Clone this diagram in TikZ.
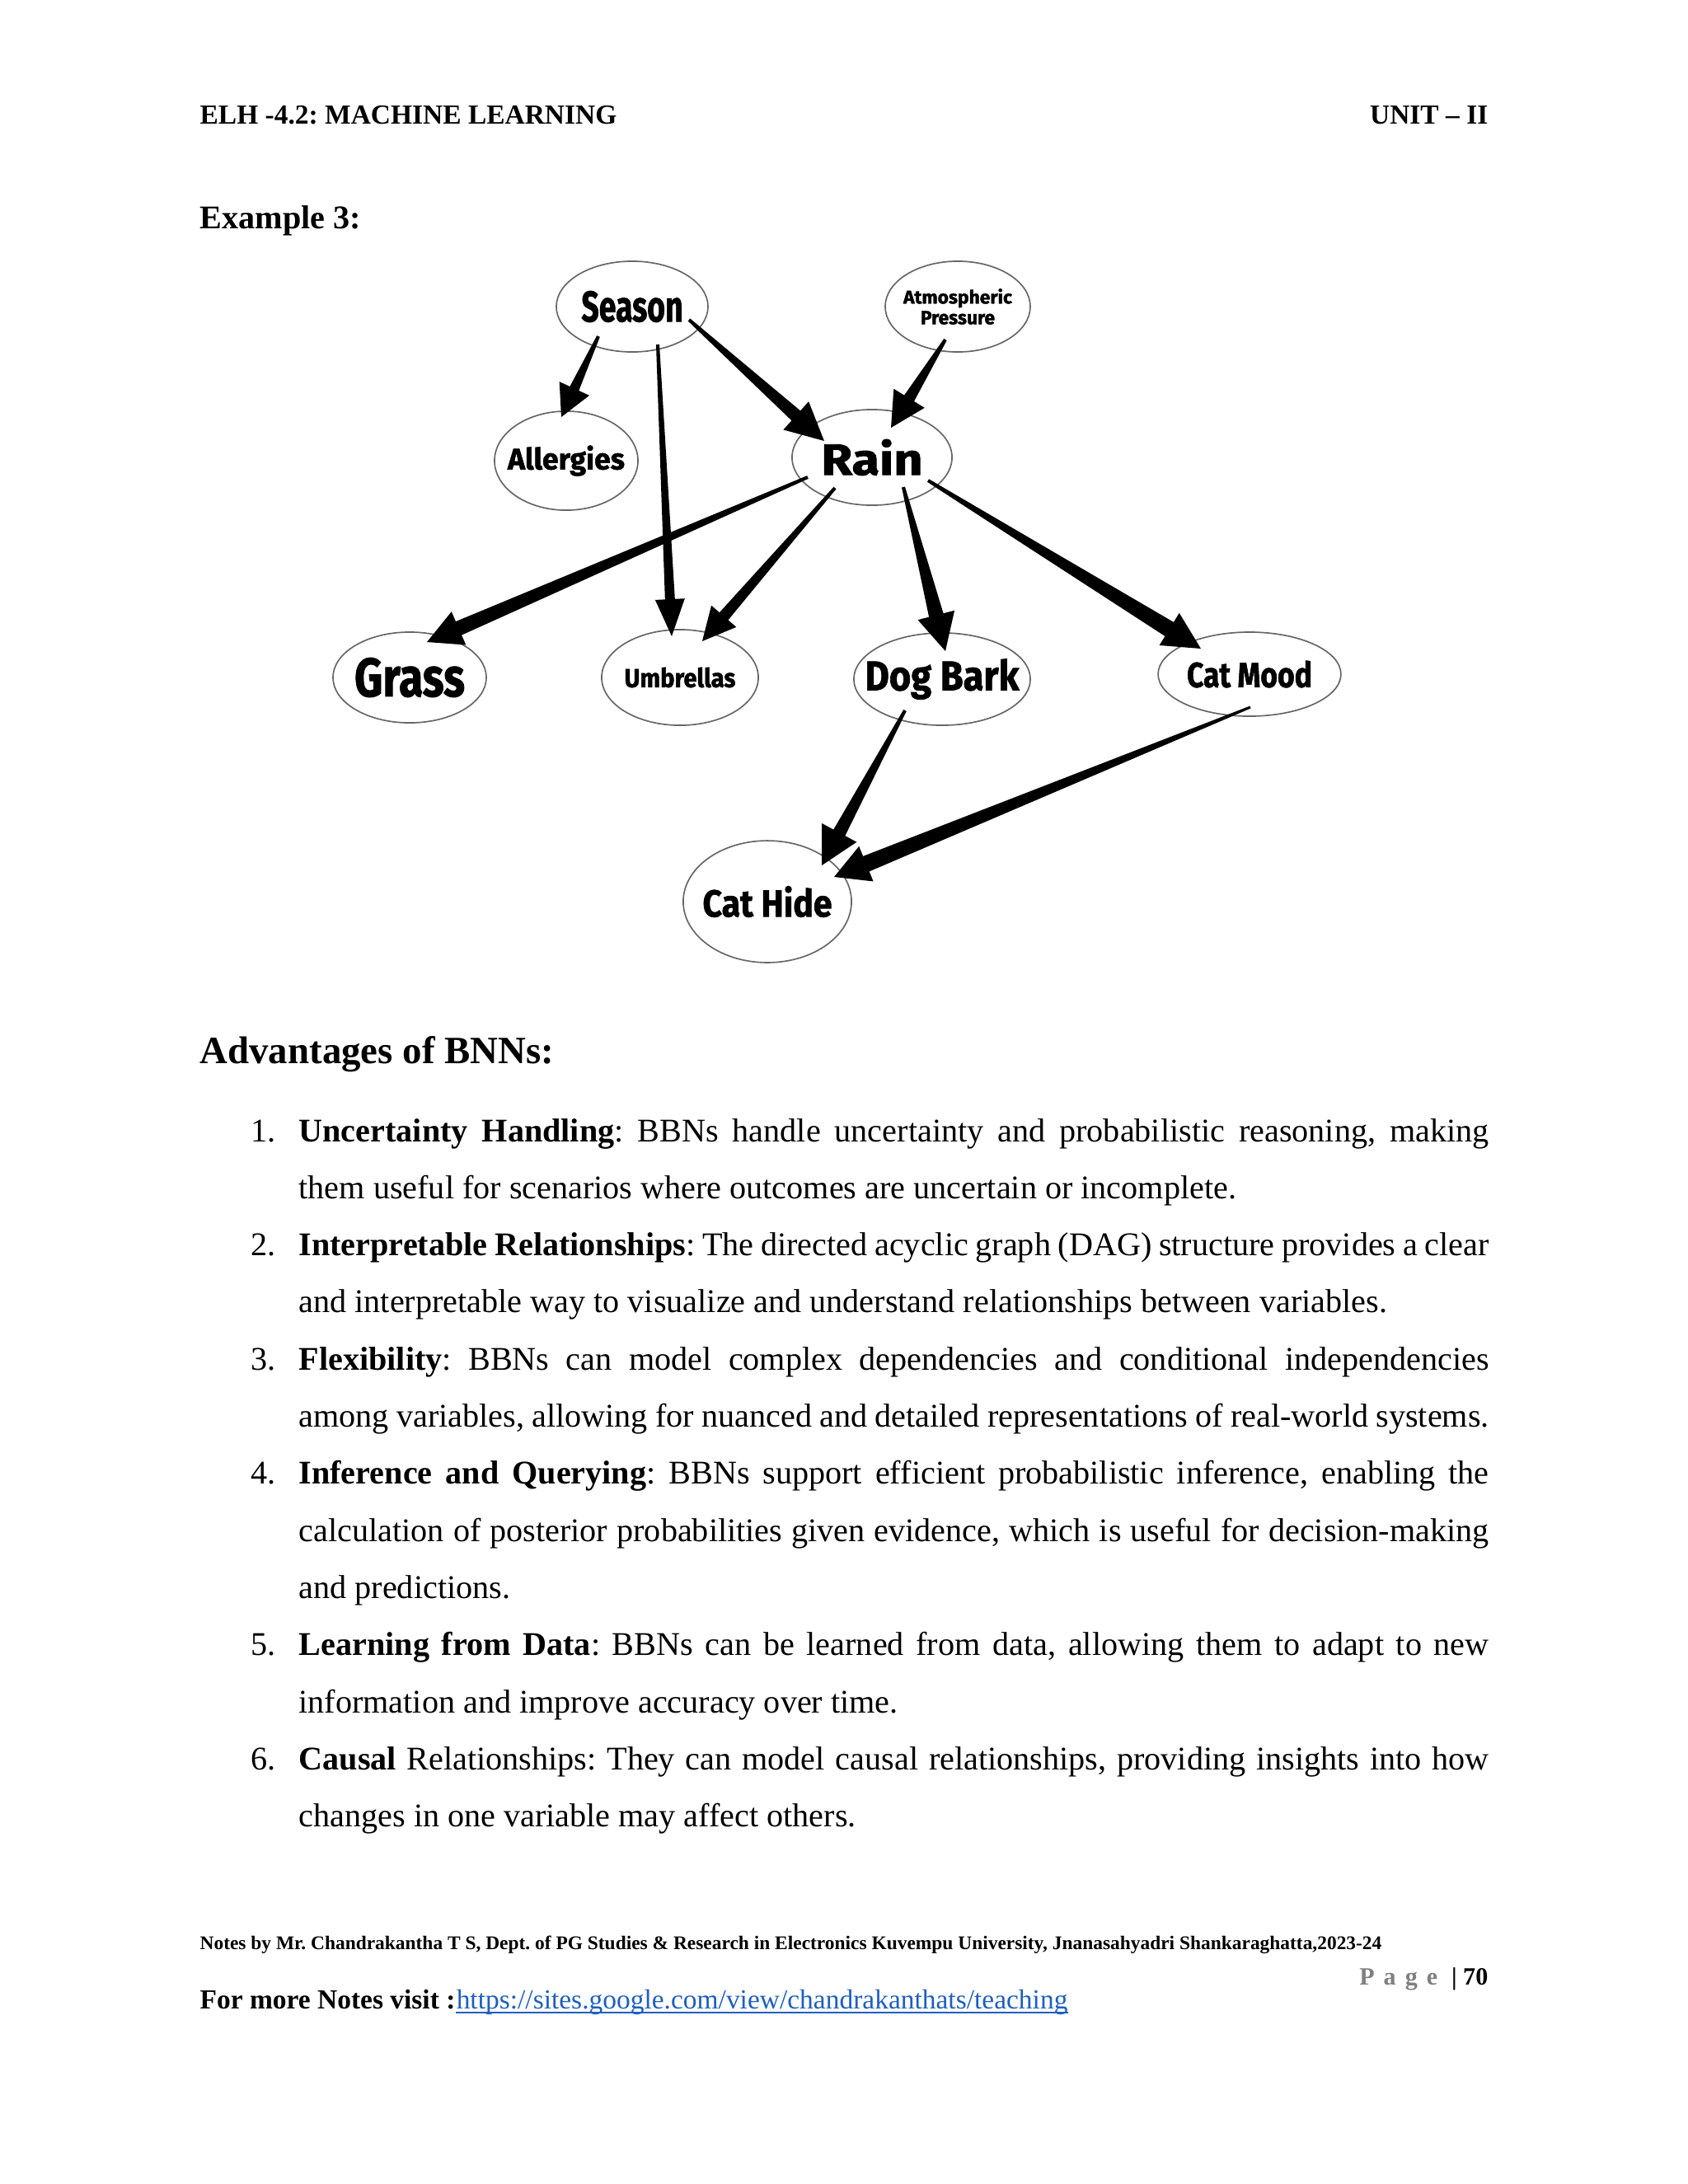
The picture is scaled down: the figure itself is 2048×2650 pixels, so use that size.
\documentclass[tikz,border=0pt]{standalone}
\usepackage{fontspec}
\setmainfont{Liberation Serif}
\newfontfamily\nodefont[BoldFeatures={FakeBold=1.5}]{Fira Sans}
\usepackage{graphicx}
\usetikzlibrary{calc,shapes.geometric}
\definecolor{linkblue}{HTML}{1F5FBF}
\definecolor{pagegray}{HTML}{808080}
\def\pxu{0.29883pt}
\frenchspacing
\newcommand\lab[3]{\makebox[0pt][c]{\resizebox{#1}{#2}{\nodefont\bfseries #3}}}
% tapered arrow: tail, tip, tail half-width, shaft half-width, head length, head half-width (px)
\newcommand\taper[6]{%
  \coordinate (hb) at ($(#2)!#5*\pxu!(#1)$);
  \fill[black] ($(#1)!#3*\pxu!90:(#2)$) -- ($(hb)!#4*\pxu!-90:(#1)$) -- ($(hb)!#6*\pxu!-90:(#1)$) -- (#2)
     -- ($(hb)!#6*\pxu!90:(#1)$) -- ($(hb)!#4*\pxu!90:(#1)$) -- ($(#1)!#3*\pxu!-90:(#2)$) -- cycle;
}
\begin{document}
\begin{tikzpicture}[x=0.29883pt,y=-0.29883pt,
  bn/.style={ellipse, draw=black!60, line width=0.5pt, fill=white, inner sep=0pt},
  txt/.style={anchor=base west, inner sep=0pt, font=\fontsize{12}{14}\selectfont\frenchspacing},
  num/.style={anchor=base west, inner sep=0pt, font=\fontsize{12}{14}\selectfont},
  hdr/.style={inner sep=0pt, font=\fontsize{10}{12}\selectfont\bfseries}]
\fill[white] (0,0) rectangle (2048,2650);
\useasboundingbox (0,0) rectangle (2048,2650);

% header
\node[hdr, anchor=base west] (hl) at (242,150) {ELH -4.2: MACHINE LEARNING};
\node[hdr, anchor=base east] (hr) at (1806,150) {UNIT – II};
\node[inner sep=0pt, anchor=base west, font=\fontsize{12}{14}\selectfont\bfseries] (ex) at (242,277) {Example 3:};

% diagram nodes
\node[bn, minimum width=55pt, minimum height=32.9pt] (season) at (767,372) {\lab{36.8pt}{11.1pt}{Season}};
\node[bn, minimum width=52.6pt, minimum height=32.9pt, align=center, font=\fontsize{7}{7.5}\selectfont] (atm) at (1162,372) {\lab{39.4pt}{5.4pt}{Atmospheric}\\\lab{26.9pt}{4.8pt}{Pressure}};
\node[bn, minimum width=52pt, minimum height=35.9pt] (allergies) at (687,559) {\lab{42.4pt}{8.7pt}{Allergies}};
\node[bn, minimum width=58pt, minimum height=34.7pt] (rain) at (1058,555) {\lab{36.8pt}{12.9pt}{Rain}};
\node[bn, minimum width=55.6pt, minimum height=32.9pt] (grass) at (497,822) {\lab{40pt}{14pt}{Grass}};
\node[bn, minimum width=56.8pt, minimum height=34.7pt] (umbrellas) at (825,822) {\lab{40.3pt}{7.2pt}{Umbrellas}};
\node[bn, minimum width=64pt, minimum height=33.5pt] (dogbark) at (1143,824) {\lab{55.9pt}{11.4pt}{Dog Bark}};
\node[bn, minimum width=66.3pt, minimum height=30.5pt] (catmood) at (1516,818) {\lab{45.4pt}{9.6pt}{Cat Mood}};
\node[bn, minimum width=61pt, minimum height=44.2pt] (cathide) at (931,1094) {\lab{46.9pt}{11.1pt}{Cat Hide}};

% arrow end points, relative to the nodes
\coordinate (a1) at ([shift={(-41,36)}]season.center);
\coordinate (b1) at ([shift={(-6,-53)}]allergies.center);
\coordinate (a2) at ([shift={(31,46)}]season.center);
\coordinate (b2) at ([shift={(-10,-50)}]umbrellas.center);
\coordinate (a3) at ([shift={(69,16)}]season.center);
\coordinate (b3) at ([shift={(-58,-20)}]rain.center);
\coordinate (a4) at ([shift={(-15,40)}]atm.center);
\coordinate (b4) at ([shift={(23,-36)}]rain.center);
\coordinate (a5) at ([shift={(-78,24)}]rain.center);
\coordinate (b5) at ([shift={(21,-43)}]grass.center);
\coordinate (a6) at ([shift={(-45,37)}]rain.center);
\coordinate (b6) at ([shift={(27,-44)}]umbrellas.center);
\coordinate (a7) at ([shift={(38,36)}]rain.center);
\coordinate (b7) at ([shift={(4,-34)}]dogbark.center);
\coordinate (a8) at ([shift={(68,28)}]rain.center);
\coordinate (b8) at ([shift={(-59,-31)}]catmood.center);
\coordinate (a9) at ([shift={(-45,38)}]dogbark.center);
\coordinate (b9) at ([shift={(66,-44)}]cathide.center);
\coordinate (a10) at ([shift={(1,40)}]catmood.center);
\coordinate (b10) at ([shift={(81,-30)}]cathide.center);

\taper{a1}{b1}{2}{6}{38}{20}
\taper{a2}{b2}{2}{6}{45}{18}
\taper{a3}{b3}{2}{8}{46}{23}
\taper{a4}{b4}{2}{7}{42}{22}
\taper{a5}{b5}{2}{9}{42}{22}
\taper{a6}{b6}{2}{7}{40}{20}
\taper{a7}{b7}{2}{9}{45}{23}
\taper{a8}{b8}{2}{10}{45}{23}
\taper{a9}{b9}{2}{8}{45}{24}
\taper{a10}{b10}{1.5}{10}{42}{23}

% advantages
\node[inner sep=0pt, anchor=base west, font=\fontsize{14}{17}\selectfont\bfseries] (adv) at (242,1290) {Advantages of BNNs:};

\node[num] (n1) at (304,1385) {1.};
\node[txt] (l1) at (362,1385) {\makebox[431.5pt][s]{\textbf{Uncertainty Handling}: BBNs handle uncertainty and probabilistic reasoning, making}};
\node[txt] (l2) at (362,1454.3) {them useful for scenarios where outcomes are uncertain or incomplete.};
\node[num] (n2) at (304,1523.6) {2.};
\node[txt] (l3) at (362,1523.6) {\makebox[431.5pt][s]{\textbf{Interpretable Relationships}: The directed acyclic graph (DAG) structure provides a clear}};
\node[txt] (l4) at (362,1592.9) {and interpretable way to visualize and understand relationships between variables.};
\node[num] (n3) at (304,1662.2) {3.};
\node[txt] (l5) at (362,1662.2) {\makebox[431.5pt][s]{\textbf{Flexibility}: BBNs can model complex dependencies and conditional independencies}};
\node[txt] (l6) at (362,1731.5) {\makebox[431.5pt][s]{among variables, allowing for nuanced and detailed representations of real-world systems.}};
\node[num] (n4) at (304,1800.8) {4.};
\node[txt] (l7) at (362,1800.8) {\makebox[431.5pt][s]{\textbf{Inference and Querying}: BBNs support efficient probabilistic inference, enabling the}};
\node[txt] (l8) at (362,1870.1) {\makebox[431.5pt][s]{calculation of posterior probabilities given evidence, which is useful for decision-making}};
\node[txt] (l9) at (362,1939.4) {and predictions.};
\node[num] (n5) at (304,2008.7) {5.};
\node[txt] (l10) at (362,2008.7) {\makebox[431.5pt][s]{\textbf{Learning from Data}: BBNs can be learned from data, allowing them to adapt to new}};
\node[txt] (l11) at (362,2078) {information and improve accuracy over time.};
\node[num] (n6) at (304,2147.3) {6.};
\node[txt] (l12) at (362,2147.3) {\makebox[431.5pt][s]{\textbf{Causal} Relationships: They can model causal relationships, providing insights into how}};
\node[txt] (l13) at (362,2216.6) {changes in one variable may affect others.};

% footer
\node[inner sep=0pt, anchor=base west, font=\fontsize{7}{8.4}\selectfont\bfseries] (notes) at (242,2365) {Notes by Mr. Chandrakantha T S, Dept. of PG Studies \& Research in Electronics Kuvempu University, Jnanasahyadri Shankaraghatta,2023-24};
\node[inner sep=0pt, anchor=base east, font=\fontsize{9}{11}\selectfont] (pg) at (1806,2408) {\textcolor{pagegray}{\textbf{P\hspace{3.3pt}a\hspace{3.3pt}g\hspace{3.3pt}e}}\hspace{5pt}\textbf{| 70}};
\node[inner sep=0pt, anchor=base west, font=\fontsize{10}{12}\selectfont\bfseries] (more) at (242,2437) {For more Notes visit :};
\node[inner sep=0pt, anchor=base west, font=\fontsize{10}{12}\selectfont, text=linkblue] (link) at (more.base east) {https://sites.google.com/view/chandrakanthats/teaching};
\draw[linkblue, line width=0.45pt] ([yshift=-1.5pt]link.base west) -- ([yshift=-1.5pt]link.base east);
\end{tikzpicture}
\end{document}
